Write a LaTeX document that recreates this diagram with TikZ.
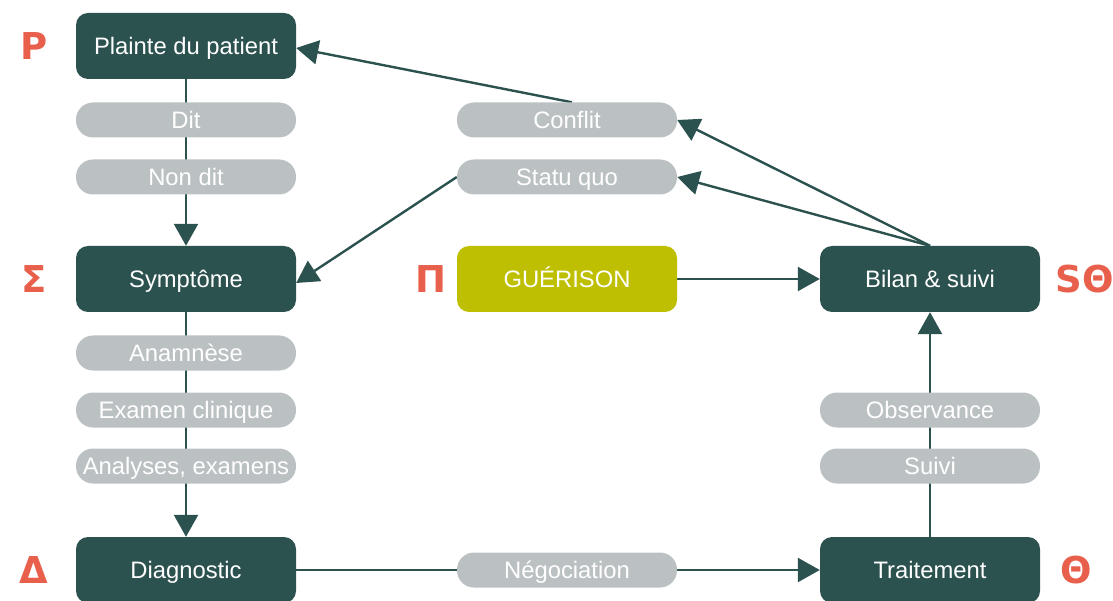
\documentclass[tikz,border=0pt]{standalone}
\usepackage{fontspec}
\setmainfont{Liberation Sans}
\newfontfamily\greekfont{DejaVu Sans}
\usetikzlibrary{arrows.meta,backgrounds}
\definecolor{teal}{HTML}{2C524F}
\definecolor{pill}{HTML}{BBC1C3}
\definecolor{olive}{HTML}{BEBF00}
\definecolor{letter}{HTML}{E8604C}
\tikzset{
  label text/.style={text=white, font=\fontsize{23.8}{27}\selectfont,
    text height=17pt, text depth=0pt, inner sep=0pt},
  box/.style={label text, fill=teal, rounded corners=12pt, minimum width=220pt, minimum height=66pt},
  cure/.style={box, fill=olive},
  pillbox/.style={label text, fill=pill, rounded corners=17pt, minimum width=220pt, minimum height=35pt},
  glyph/.style={text=letter, font=\greekfont\bfseries\fontsize{37}{40}\selectfont, inner sep=0pt},
  link/.style={draw=teal, line width=2.4pt},
  arr/.style={link, -{Triangle[length=22pt,width=24pt]}}
}
\begin{document}
\begin{tikzpicture}[x=1pt,y=-1pt]
\useasboundingbox (0,0) rectangle (1113,601);

% main steps
\node[box] (plainte) at (186,46) {Plainte du patient};
\node[box] (sympt) at (186,279) {Symptôme};
\node[box] (diag) at (186,570) {Diagnostic};
\node[box] (trait) at (930,570) {Traitement};
\node[box] (bilan) at (930,279) {Bilan \& suivi};
\node[cure] (guer) at (567,279) {GUÉRISON};

% intermediate labels
\node[pillbox] (dit) at (186,120) {Dit};
\node[pillbox] (nondit) at (186,177) {Non dit};
\node[pillbox] (anam) at (186,353) {Anamnèse};
\node[pillbox] (exam) at (186,410) {Examen clinique};
\node[pillbox] (analy) at (186,466) {Analyses, examens};
\node[pillbox] (conflit) at (567,120) {Conflit};
\node[pillbox] (statu) at (567,177) {Statu quo};
\node[pillbox] (nego) at (567,570) {Négociation};
\node[pillbox] (obs) at (930,410) {Observance};
\node[pillbox] (suivi) at (930,466) {Suivi};

% stage letters
\node[glyph] (lp) at (34,46) {Ρ};
\node[glyph] (ls) at (34,279) {Σ};
\node[glyph] (lpi) at (431,279) {Π};
\node[glyph] (lso) at (1085,279) {SΘ};
\node[glyph] (ld) at (34,570) {Δ};
\node[glyph] (lt) at (1076,570) {Θ};

% connectors
\begin{scope}[on background layer]
  \draw[arr] (plainte.south) -- (sympt.north);
  \draw[arr] (sympt.south) -- (diag.north);
  \draw[arr] (diag.east) -- (trait.west);
  \draw[arr] (trait.north) -- (bilan.south);
  \draw[arr] (guer.east) -- (bilan.west);
  \draw[arr] (bilan.north) -- (conflit.east);
  \draw[arr] (bilan.north) -- (statu.east);
  \draw[arr] ([xshift=5pt]conflit.north) -- ([yshift=-2pt]plainte.east);
  \draw[arr] (statu.west) -- ([yshift=-4pt]sympt.east);
\end{scope}
\end{tikzpicture}
\end{document}
